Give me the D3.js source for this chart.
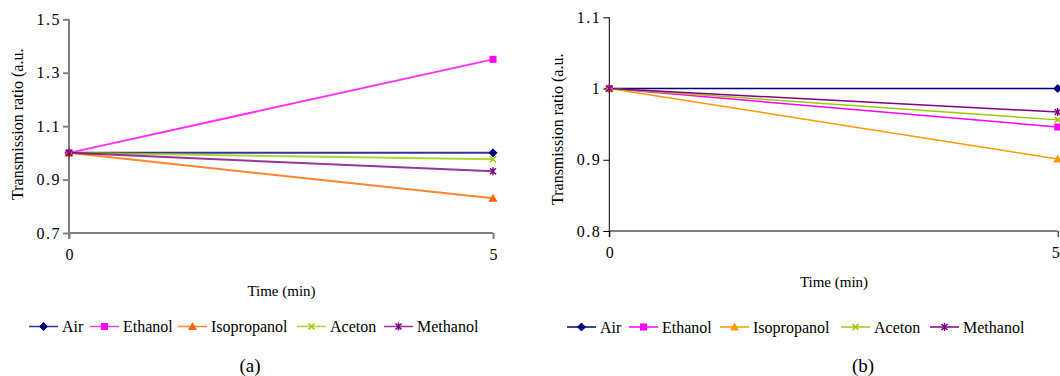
<!DOCTYPE html>
<html><head><meta charset="utf-8">
<script src="https://cdn.jsdelivr.net/npm/d3@7"></script>
<style>
body{margin:0;background:#fff;}
</style></head>
<body><svg id="c" width="1060" height="376"></svg>
<script>
const times = [0, 5];
const seriesNames = ["Air", "Ethanol", "Isopropanol", "Aceton", "Methanol"];
const markers = ["diamond", "square", "triangle", "x", "star"];
const colorsA = ["#000080", "#FF00FF", "#FF6600", "#99CC00", "#800080"];
const colorsB = ["#000080", "#FF00FF", "#FF9900", "#99CC00", "#800080"];
const airA = [1.0, 1.0];
const ethanolA = [1.0, 1.35];
const isopropanolA = [1.0, 0.83];
const acetonA = [1.0, 0.976];
const methanolA = [1.0, 0.931];
const airB = [1.0, 1.0];
const ethanolB = [1.0, 0.946];
const isopropanolB = [1.0, 0.901];
const acetonB = [1.0, 0.956];
const methanolB = [1.0, 0.967];
const yTicksA = [0.7, 0.9, 1.1, 1.3, 1.5];
const yTicksB = [0.8, 0.9, 1, 1.1];
const xTicks = [0, 5];
const yTitle = "Transmission ratio (a.u.";
const xTitle = "Time (min)";

const FONT = "'Liberation Serif', 'Times New Roman', 'DejaVu Serif', serif";
const svg = d3.select("#c").style("font-family", FONT);

function markerPath(type, g, cx, cy, color) {
  const s = 4;
  if (type === "diamond") {
    g.append("path").attr("d", `M${cx},${cy-s}L${cx+s},${cy}L${cx},${cy+s}L${cx-s},${cy}Z`).attr("fill", color).attr("stroke", color);
  } else if (type === "square") {
    g.append("rect").attr("x", cx-3.5).attr("y", cy-3.5).attr("width", 7).attr("height", 7).attr("fill", color).attr("stroke", "none");
  } else if (type === "triangle") {
    g.append("path").attr("d", `M${cx},${cy-4.5}L${cx+4.5},${cy+3.5}L${cx-4.5},${cy+3.5}Z`).attr("fill", color).attr("stroke", "none");
  } else if (type === "x") {
    g.append("path").attr("d", `M${cx-3},${cy-3}L${cx+3},${cy+3}M${cx-3},${cy+3}L${cx+3},${cy-3}`).attr("stroke", color).attr("stroke-width", 1.5).attr("fill", "none");
  } else if (type === "star") {
    g.append("path").attr("d", `M${cx-3},${cy-3}L${cx+3},${cy+3}M${cx-3},${cy+3}L${cx+3},${cy-3}M${cx},${cy-4}L${cx},${cy+4}`).attr("stroke", color).attr("stroke-width", 1.5).attr("fill", "none");
  }
}

function txt(sel) { return sel.style("font-family", FONT).attr("fill", "#000"); }

function drawChart(cfg) {
  const g = svg.append("g");
  const x = d3.scaleLinear().domain(d3.extent(xTicks)).range([cfg.x0, cfg.x1]);
  const y = d3.scaleLinear().domain(cfg.yDomain).range([cfg.yBottom, cfg.yTop]);

  const ya = g.append("g").attr("transform", `translate(${cfg.x0},0)`)
    .call(d3.axisLeft(y).tickValues(cfg.yTicks).tickSize(6).tickPadding(2).tickFormat(d => String(d)));
  ya.attr("font-family", null);
  ya.selectAll(".domain").attr("d", `M0,${cfg.yTop}V${cfg.yBottom + 6}`).attr("stroke", cfg.axisColor).attr("stroke-width", cfg.axisWidth);
  ya.selectAll(".tick line").attr("stroke", cfg.axisColor).attr("stroke-width", cfg.axisWidth);
  txt(ya.selectAll(".tick text")).style("font-size", "16px").attr("letter-spacing", 1.5);

  const xa = g.append("g").attr("transform", `translate(0,${cfg.yBottom})`)
    .call(d3.axisBottom(x).tickValues(xTicks).tickSize(6).tickPadding(10).tickFormat(d3.format("d")));
  xa.attr("font-family", null);
  xa.selectAll(".domain").attr("d", `M${cfg.x0},0H${cfg.x1}`).attr("stroke", cfg.axisColor).attr("stroke-width", cfg.axisWidth);
  xa.selectAll(".tick line").attr("stroke", cfg.axisColor).attr("stroke-width", cfg.axisWidth);
  txt(xa.selectAll(".tick text")).style("font-size", "16px");
  if (cfg.lastTickEnd) xa.selectAll(".tick text").filter(d => d === 5).attr("text-anchor", "end").attr("dx", 1.5);

  const line = d3.line().x((d, i) => x(times[i])).y(d => y(d));
  cfg.series.forEach((vals, k) => {
    g.append("path").datum(vals).attr("d", line).attr("fill", "none")
      .attr("stroke", cfg.colors[k]).attr("stroke-width", cfg.lineWidth).attr("stroke-opacity", cfg.lineOpacity);
  });
  cfg.series.forEach((vals, k) => {
    vals.forEach((v, i) => markerPath(markers[k], g, x(times[i]), y(v), cfg.colors[k]));
  });

  txt(g.append("text")).attr("transform", `translate(${cfg.yTitleX},${cfg.yTitleY}) rotate(-90)`)
    .style("font-size", "16px").text(yTitle);
  txt(g.append("text")).attr("x", cfg.xTitleX).attr("y", cfg.xTitleY).attr("text-anchor", "middle")
    .style("font-size", "15px").text(xTitle);

  const lg = g.append("g");
  cfg.legendX.forEach((lx, k) => {
    lg.append("line").attr("x1", lx).attr("x2", lx + 29).attr("y1", cfg.legendY).attr("y2", cfg.legendY)
      .attr("stroke", cfg.colors[k]).attr("stroke-width", 1.5).attr("stroke-opacity", cfg.lineOpacity);
    markerPath(markers[k], lg, lx + 14.5, cfg.legendY, cfg.colors[k]);
    txt(lg.append("text")).attr("x", lx + 33).attr("y", cfg.legendY + 5.5).style("font-size", "16px").text(seriesNames[k]);
  });

  txt(g.append("text")).attr("x", cfg.labelX).attr("y", cfg.labelY).attr("text-anchor", "middle")
    .style("font-size", "19px").text(cfg.label);
}

drawChart({
  x0: 69, x1: 493, yTop: 19.3, yBottom: 233, yDomain: [0.7, 1.5], yTicks: yTicksA,
  axisColor: "#7f7f7f", axisWidth: 2, lineWidth: 2, lineOpacity: 0.8,
  series: [airA, ethanolA, isopropanolA, acetonA, methanolA], colors: colorsA,
  yTitleX: 23, yTitleY: 200, xTitleX: 281.5, xTitleY: 296,
  legendX: [29, 90, 178, 297, 384], legendY: 326.5,
  label: "(a)", labelX: 250, labelY: 372
});
drawChart({
  x0: 609.3, x1: 1057.7, yTop: 17.3, yBottom: 231, yDomain: [0.8, 1.1], yTicks: yTicksB,
  axisColor: "#000", axisWidth: 1, lineWidth: 1.5, lineOpacity: 1,
  series: [airB, ethanolB, isopropanolB, acetonB, methanolB], colors: colorsB,
  yTitleX: 563, yTitleY: 205, xTitleX: 834, xTitleY: 287,
  legendX: [567, 629, 720, 841, 930], legendY: 327,
  label: "(b)", labelX: 863, labelY: 372, lastTickEnd: true
});
</script></body></html>
